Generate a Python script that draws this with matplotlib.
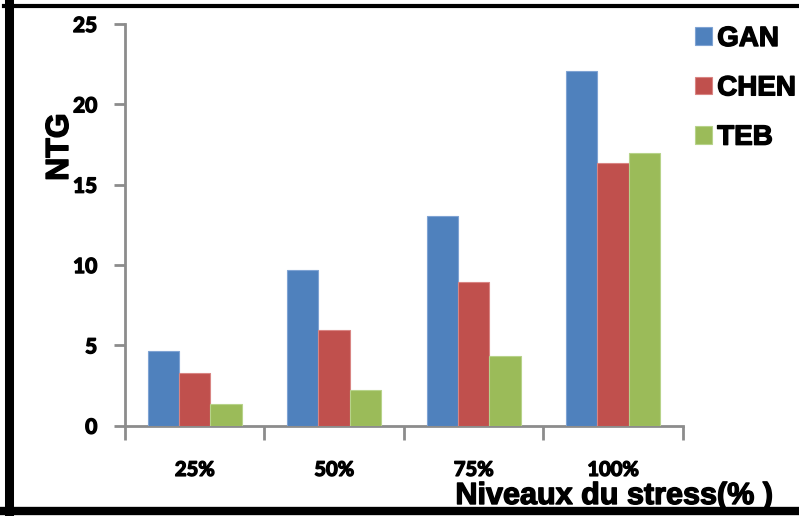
import matplotlib
matplotlib.use("Agg")
import matplotlib.pyplot as plt
from matplotlib.lines import Line2D
import matplotlib.patheffects as pe
import numpy as np

categories = ["25%", "50%", "75%", "100%"]
series_names = ["GAN", "CHEN", "TEB"]
gan = [4.67, 9.69, 13.05, 22.07]
chen = [3.30, 5.97, 8.94, 16.37]
teb = [1.35, 2.24, 4.34, 16.99]
colors = ["#4F81BD", "#C0504D", "#9BBB59"]
edge_colors = ["#7FA3D3", "#D98583", "#B7D38A"]
y_ticks = [0, 5, 10, 15, 20, 25]

W, H = 799, 516
fig = plt.figure(figsize=(W / 100, H / 100), dpi=100)
ax = fig.add_axes([125 / W, (H - 425.7) / H, (682.7 - 125) / W, (425.7 - 24) / H])

heavy = [pe.withStroke(linewidth=1.0, foreground="black")]

x = np.arange(len(categories)) + 0.5
bw = 0.225
for k, (vals, c, ec, name) in enumerate(zip([gan, chen, teb], colors, edge_colors, series_names)):
    ax.bar(x + (k - 1) * bw, vals, width=bw, color=c, edgecolor=ec, linewidth=0.8, label=name, zorder=3)

ax.set_xlim(0, 4)
ax.set_ylim(0, 25)
ax.set_yticks(y_ticks)
ax.set_yticklabels([str(t) for t in y_ticks])
ax.set_xticks(np.arange(0, 5))
ax.set_xticklabels([])
for xi, lab in zip(x, categories):
    ax.text(xi, -2.75, lab, ha="center", va="center", fontsize=14.5,
            fontweight="bold", family="Lato", path_effects=heavy)

for s in ["top", "right"]:
    ax.spines[s].set_visible(False)
for s in ["left", "bottom"]:
    ax.spines[s].set_color("#8C8C8C")
    ax.spines[s].set_linewidth(2)
ax.tick_params(axis="y", length=8, width=2, color="#8C8C8C", pad=12)
ax.tick_params(axis="x", length=10, width=2, color="#8C8C8C")
for lab in ax.get_yticklabels():
    lab.set_fontsize(15)
    lab.set_fontweight("bold")
    lab.set_family("Lato")
    lab.set_path_effects(heavy)

leg = ax.legend(loc="upper left", bbox_to_anchor=(695 / W, 1 - 26 / H), bbox_transform=fig.transFigure,
                frameon=False, prop={"family": "Liberation Sans", "weight": "bold", "size": 20},
                handlelength=0.6, handleheight=0.6, handletextpad=0.2, labelspacing=0.84,
                borderpad=0, borderaxespad=0)
for t in leg.get_texts():
    t.set_path_effects(heavy)

fig.text(60 / W, 1 - 147 / H, "NTG", rotation=90, ha="center", va="center",
         fontsize=23, fontweight="bold", family="Liberation Sans", path_effects=heavy)
fig.text(614 / W, 1 - 496 / H, "Niveaux du stress(% )", ha="center", va="center",
         fontsize=22, fontweight="bold", family="Liberation Sans", path_effects=heavy)

# black frame around the figure
fig.add_artist(Line2D([8.5 / W, 8.5 / W], [0, 1 - 4 / H], transform=fig.transFigure, color="black", lw=6.5))
fig.add_artist(Line2D([4 / W, 1], [1 - 6 / H, 1 - 6 / H], transform=fig.transFigure, color="black", lw=3))
fig.add_artist(Line2D([4 / W, 1], [5 / H, 5 / H], transform=fig.transFigure, color="black", lw=6))

fig.savefig("out.png", dpi=100)
